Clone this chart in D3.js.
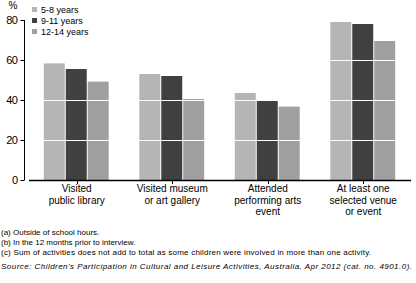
<!DOCTYPE html>
<html><head><meta charset="utf-8">
<script src="https://cdn.jsdelivr.net/npm/d3@7"></script>
<style>body{margin:0;background:#fff}svg{display:block}text{font-family:"Liberation Sans",Arial,sans-serif;fill:#000}</style>
</head><body>
<script>
const categories = [["Visited","public library"],["Visited museum","or art gallery"],["Attended","performing arts","event"],["At least one","selected venue","or event"]];
const series = ["5-8 years","9-11 years","12-14 years"];
const values5to8 = [58.3, 53, 43.5, 79];
const values9to11 = [55.5, 52, 39.7, 78];
const values12to14 = [49.2, 40.5, 36.7, 69.5];
const yTicks = [0,20,40,60,80];
const footnotes = ["(a) Outside of school hours.","(b) In the 12 months prior to interview.","(c) Sum of activities does not add to total as some children were involved in more than one activity."];
const source = "Source: Children's Participation in Cultural and Leisure Activities, Australia, Apr 2012 (cat. no. 4901.0).";
const colors = ["#b5b5b5","#404040","#a0a0a0"];
const allValues = [values5to8, values9to11, values12to14];

const W=416,H=283;
const svg=d3.select("body").append("svg").attr("width",W).attr("height",H);
const y=d3.scaleLinear().domain([0,80]).range([180,20]);
const x0=d3.scaleBand().domain(d3.range(categories.length)).range([29,411]).paddingInner(0.31).paddingOuter(0.155);
const x1=d3.scaleBand().domain(d3.range(series.length)).range([0,x0.bandwidth()]);

const g=svg.append("g");
series.forEach((s,si)=>{
  g.selectAll(null).data(allValues[si]).enter().append("rect")
    .attr("x",(d,i)=>x0(i)+x1(si)).attr("width",x1.bandwidth()-1)
    .attr("y",d=>y(d)).attr("height",d=>y(0)-y(d)).attr("fill",colors[si]);
});
svg.append("g").selectAll("line").data(yTicks.filter(t=>t>0&&t<80)).enter().append("line")
  .attr("x1",29).attr("x2",411).attr("y1",d=>Math.round(y(d))+0.5).attr("y2",d=>Math.round(y(d))+0.5)
  .attr("stroke","#fff").attr("stroke-width",1);

const ya=svg.append("g").attr("transform","translate(24.5,0)");
ya.append("line").attr("x1",0).attr("x2",0).attr("y1",y(80)).attr("y2",y(0)).attr("stroke","#000");
ya.selectAll("g").data(yTicks).enter().append("g").each(function(d){
  const t=d3.select(this);
  t.append("line").attr("x1",-4).attr("x2",0).attr("y1",Math.round(y(d))+0.5).attr("y2",Math.round(y(d))+0.5).attr("stroke","#000");
  t.append("text").attr("x",-7).attr("y",y(d)+3.5).attr("text-anchor","end").attr("font-size",11).attr("letter-spacing",-0.5).text(d);
});
svg.append("text").attr("x",13).attr("y",9).attr("text-anchor","middle").attr("font-size",10).text("%");

svg.append("line").attr("x1",29).attr("x2",411).attr("y1",180.5).attr("y2",180.5).attr("stroke","#000").attr("stroke-width",1.3);
categories.forEach((c,i)=>{
  const cx=x0(i)+x0.bandwidth()/2;
  svg.append("line").attr("x1",Math.round(cx)+0.5).attr("x2",Math.round(cx)+0.5).attr("y1",180).attr("y2",184).attr("stroke","#000");
  c.forEach((l,li)=>svg.append("text").attr("x",cx).attr("y",192+li*11.7).attr("text-anchor","middle").attr("font-size",10).text(l));
});

series.forEach((s,i)=>{
  svg.append("rect").attr("x",32).attr("y",7+i*11).attr("width",5).attr("height",5).attr("fill",colors[i]);
  svg.append("text").attr("x",41).attr("y",12.5+i*11).attr("font-size",9).text(s);
});

const fnWidths=[null,null,370];
footnotes.forEach((f,i)=>{
  const t=svg.append("text").attr("x",1).attr("y",235+i*10).attr("font-size",8).text(f);
  if(fnWidths[i]) t.attr("textLength",fnWidths[i]).attr("lengthAdjust","spacing");
});
svg.append("text").attr("x",1).attr("y",268.5).attr("font-size",8).attr("font-style","italic")
  .attr("textLength",411).attr("lengthAdjust","spacing").text(source);
</script>
</body></html>
